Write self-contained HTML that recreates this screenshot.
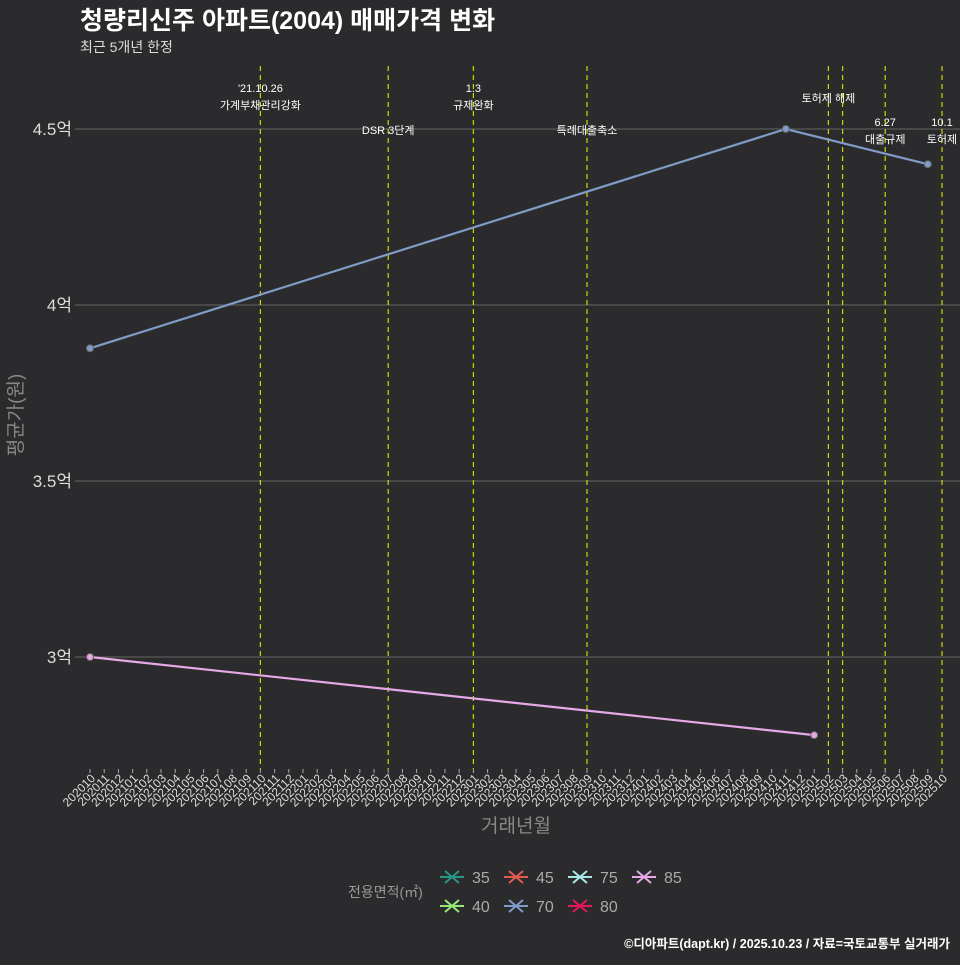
<!DOCTYPE html>
<html><head><meta charset="utf-8"><style>
body{margin:0;background:#2b2b2d;width:960px;height:960px;overflow:hidden;font-family:"Liberation Sans","Noto Sans CJK KR",sans-serif;}
</style></head><body>
<svg id="c" width="960" height="960" xmlns="http://www.w3.org/2000/svg" style="font-family:'Liberation Sans','Noto Sans CJK KR',sans-serif">
<rect width="960" height="960" fill="#2b2b2d"/>
<text x="80" y="29" font-size="25" font-weight="bold" fill="#ffffff">청량리신주 아파트(2004) 매매가격 변화</text>
<text x="80" y="52" font-size="14" fill="#dddddd">최근 5개년 한정</text>
<g id="grid"></g><g id="events"></g><g id="series"></g><g id="xaxis"></g>
<text transform="translate(22,415) rotate(-90)" text-anchor="middle" font-size="19" fill="#888">평균가(원)</text>
<text x="516" y="832" text-anchor="middle" font-size="19" fill="#888">거래년월</text>
<g id="legend"></g>
<text x="950" y="948" text-anchor="end" font-size="12.5" font-weight="bold" fill="#ffffff">©디아파트(dapt.kr) / 2025.10.23 / 자료=국토교통부 실거래가</text>
</svg>
<script>
const months=[];for(let y=2020,m=10;!(y===2025&&m===11);){months.push(''+y+String(m).padStart(2,'0'));m++;if(m>12){m=1;y++;}}
const yTicks=[3,3.5,4,4.5];
const yTickLabels=['3억','3.5억','4억','4.5억'];
const s70Months=['202010','202411','202509'];
const s70Values=[3.877,4.5,4.4];
const s85Months=['202010','202501'];
const s85Values=[3.0,2.778];
const eventMonths=['202110','202207','202301','202309','202502','202503','202506','202510'];
const eventLabels=[["'21.10.26","가계부채관리강화"],["DSR 3단계"],["1.3","규제완화"],["특례대출축소"],["토허제 해제"],[],["6.27","대출규제"],["10.1","토허제"]];
const eventLabelY=[[92,109],[134],[92,109],[134],[102],[],[126,143],[126,143]];
const NS='http://www.w3.org/2000/svg';
const xs=m=>90+months.indexOf(m)*(852/60);
const ys=v=>657-(v-3)*352;
function el(t,a,p){const e=document.createElementNS(NS,t);for(const k in a)e.setAttribute(k,a[k]);document.getElementById(p).appendChild(e);return e;}
yTicks.forEach((v,i)=>{
 const l=el('line',{x1:75,x2:960,y1:ys(v),y2:ys(v),stroke:'#5a5a5a','stroke-width':1.3},'grid');
 
 
 const t=el('text',{x:72,y:ys(v)+6,'text-anchor':'end','font-size':17,fill:'#dddddd'},'grid');t.textContent=yTickLabels[i];
 
 
});
eventMonths.forEach((m,i)=>{
 const x=xs(m);
 const l=el('line',{x1:x,x2:x,y1:66,y2:769,stroke:'#d4d400','stroke-width':1.2,'stroke-dasharray':'5,4'},'events');
 
 
 eventLabels[i].forEach((s,j)=>{const t=el('text',{x:x,y:eventLabelY[i][j],'text-anchor':'middle','font-size':11,fill:'#ffffff'},'events');t.textContent=s;
 
 });
});
function series(ms,vs,c,name){
 const p=el('polyline',{points:ms.map((m,i)=>xs(m)+','+ys(vs[i])).join(' '),fill:'none',stroke:c,'stroke-width':2.2},'series');
 
 
 ms.forEach((m,i)=>{const d=el('circle',{cx:xs(m),cy:ys(vs[i]),r:3.5,fill:c,stroke:'#666','stroke-width':1},'series');
 
 });
}
series(s70Months,s70Values,'#7f9cc6','series-70');
series(s85Months,s85Values,'#e4a9e6','series-85');
months.forEach(m=>{
 const x=xs(m);
 el('line',{x1:x,x2:x,y1:769,y2:773,stroke:'#aaa','stroke-width':1},'xaxis');
 const t=el('text',{transform:`translate(${x+6},779) rotate(-45)`,'text-anchor':'end','font-size':12,fill:'#dddddd'},'xaxis');t.textContent=m;
 
 
});
const legKeys=['35','45','75','85','40','70','80'];
const legColors=['#2a9487','#e05c52','#a8e8e4','#e4a9e6','#98e878','#7f9cc6','#e8145c'];
const lt=el('text',{x:348,y:897,'font-size':14,fill:'#999'},'legend');lt.textContent='전용면적(㎡)';
legKeys.forEach((k,i)=>{
 const col=i<4?i:i-4,row=i<4?0:1;const x=440+col*64,y=877+row*29;
 const g=el('g',{},'legend');
 
 
 [[x,y,x+24,y],[x+5,y-6,x+19,y+6],[x+5,y+6,x+19,y-6]].forEach(a=>{const l=document.createElementNS(NS,'line');l.setAttribute('x1',a[0]);l.setAttribute('y1',a[1]);l.setAttribute('x2',a[2]);l.setAttribute('y2',a[3]);l.setAttribute('stroke',legColors[i]);l.setAttribute('stroke-width',2);g.appendChild(l);});
 const t=document.createElementNS(NS,'text');t.setAttribute('x',x+32);t.setAttribute('y',y+6);t.setAttribute('font-size',16);t.setAttribute('fill','#aaa');t.textContent=k;g.appendChild(t);
});
</script>
</body></html>
